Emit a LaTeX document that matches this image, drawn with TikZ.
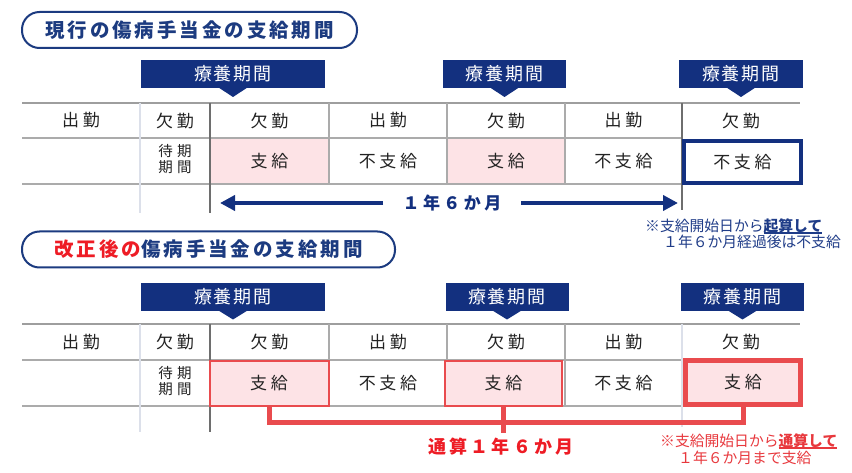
\documentclass[tikz,border=0pt]{standalone}
\usepackage{fontspec}
\setmainfont{Noto Sans CJK JP}
\newfontfamily\fTitle[LetterSpace=15]{Noto Sans CJK JP}
\newfontfamily\fTab[LetterSpace=11]{Noto Sans CJK JP}
\newfontfamily\fCell[LetterSpace=22]{Noto Sans CJK JP}
\newfontfamily\fSmall[LetterSpace=30]{Noto Sans CJK JP}
\newfontfamily\fSpan[LetterSpace=20]{Noto Sans CJK JP}
\newfontfamily\fSpanR[LetterSpace=18]{Noto Sans CJK JP}
\newfontfamily\fNote{Noto Sans CJK JP}
\usetikzlibrary{arrows.meta}
\definecolor{navy}{HTML}{13307F}
\definecolor{hdrblue}{HTML}{1C3B80}
\definecolor{hdrred}{HTML}{EE1C25}
\definecolor{redline}{HTML}{E94B4E}
\definecolor{rednote}{HTML}{E8383D}
\definecolor{pinkfill}{HTML}{FDE3E6}
\definecolor{gridgray}{HTML}{ABABAB}
\definecolor{gridtopc}{HTML}{9E9E9E}
\definecolor{darkgrid}{HTML}{6E6E6E}
\definecolor{palegrid}{HTML}{DCE0EA}
\definecolor{noteblue}{HTML}{1F3C88}
\definecolor{celltext}{HTML}{222222}
\newcommand\myul[1]{\setbox0=\hbox{#1}\rlap{\rule[-2.8pt]{\wd0}{1.4pt}}\box0}
\begin{document}
\begin{tikzpicture}[x=1pt,y=-1pt,
  pill/.style={draw=hdrblue, line width=2pt, rounded corners=17.5pt, minimum height=36pt, inner sep=0pt, font=\fTitle\bfseries\fontsize{19.5}{22}\selectfont},
  tabbox/.style={fill=navy, text=white, minimum width=#1, minimum height=28pt, inner sep=0pt, font=\fTab\fontsize{18}{20}\selectfont},
  tabptr/.style={fill=navy},
  cell/.style={inner sep=0pt, text=celltext, font=\fCell\fontsize{17}{19}\selectfont},
  smallcell/.style={inner sep=0pt, text=celltext, align=center, font=\fSmall\fontsize{14.5}{16.5}\selectfont},
  pinkcell/.style={cell, fill=pinkfill, minimum width=#1, minimum height=46pt},
  redcell/.style={cell, fill=pinkfill, draw=redline, line width=2pt, minimum width=#1, minimum height=45pt},
  gridtop/.style={draw=gridtopc, line width=1.8pt},
  grid/.style={draw=gridgray, line width=1.3pt},
  palev/.style={draw=palegrid, line width=1.3pt},
  darkv/.style={draw=darkgrid, line width=2pt},
  bluearrow/.style={draw=navy, line width=4.5pt, -{Triangle[length=15pt,width=15pt]}},
  bracket/.style={draw=redline, line width=5pt, line join=miter},
  spanblue/.style={inner sep=0pt, text=navy, font=\fSpan\bfseries\fontsize{17}{19}\selectfont},
  spanred/.style={inner sep=0pt, text=hdrred, font=\fSpanR\bfseries\fontsize{18}{20}\selectfont},
  note/.style={inner sep=0pt, anchor=west, font=\fNote\fontsize{14.8}{17}\selectfont}
]
\useasboundingbox (0,0) rectangle (852,473);
\fill[white] (0,0) rectangle (852,473);

% ================= TOP =================
\node[pill, minimum width=335pt, text=hdrblue] (hdr1) at (189.5,30) {現行の傷病手当金の支給期間};

\node[tabbox=184pt] (ttab1) at (233,74) {療養期間};
\node[tabbox=123pt] (ttab2) at (504.5,74) {療養期間};
\node[tabbox=124pt] (ttab3) at (741,74) {療養期間};
\foreach \t/\cx in {ttab1/233,ttab2/504.5,ttab3/741}{
  \fill[tabptr] (\cx-14.5,87.5) -- (\cx+14.5,87.5) -- (\cx,97) -- cycle;
}

% pink cells (fill)
\node[pinkcell=119pt] (tpay1) at (269.5,161) {支給};
\node[pinkcell=118pt] (tpay2) at (506,161) {支給};

% grid
\draw[gridtop] (22,103) -- (800,103);
\draw[grid] (22,138) -- (682,138);
\draw[grid] (22,184) -- (682,184);
\draw[palev] (140,103) -- (140,213);
\draw[grid] (329,103) -- (329,184);
\draw[grid] (447,103) -- (447,184);
\draw[grid] (565,103) -- (565,184);
\draw[darkv] (210,103) -- (210,213);
\draw[darkv] (682,103) -- (682,210);

% row 1
\node[cell] (t11) at (81,120.5) {出勤};
\node[cell] (t12) at (175,120.5) {欠勤};
\node[cell] (t13) at (269.5,120.5) {欠勤};
\node[cell] (t14) at (388,120.5) {出勤};
\node[cell] (t15) at (506,120.5) {欠勤};
\node[cell] (t16) at (623.5,120.5) {出勤};
\node[cell] (t17) at (741,120.5) {欠勤};
% row 2
\node[smallcell] (t22) at (175,159) {待期\\期間};
\node[cell] (t24) at (388,161) {不支給};
\node[cell] (t26) at (623.5,161) {不支給};
\node[cell, draw=navy, line width=4pt, minimum width=117pt, minimum height=42pt] (t27) at (742.5,162) {不支給};

% span arrow
\node[spanblue] (span1) at (452,203) {１年６か月};
\coordinate (aLs) at (383,203);
\coordinate (aLe) at (220,203);
\coordinate (aRs) at (521,203);
\coordinate (aRe) at (678,203);
\draw[bluearrow] (aLs) -- (aLe);
\draw[bluearrow] (aRs) -- (aRe);

\node[note, text=noteblue] (n11) at (645,226) {※支給開始日から\myul{\bfseries 起算して}};
\node[note, text=noteblue] (n12) at (663,242) {１年６か月経過後は不支給};

% ================= BOTTOM =================
\node[pill, minimum width=373pt] (hdr2) at (208.5,249.5) {{\color{hdrred}改正後の}{\color{hdrblue}傷病手当金の支給期間}};

\node[tabbox=184pt] (btab1) at (233,297) {療養期間};
\node[tabbox=123pt] (btab2) at (507,297) {療養期間};
\node[tabbox=123pt] (btab3) at (742.5,297) {療養期間};
\foreach \t/\cx in {btab1/233,btab2/507,btab3/742.5}{
  \fill[tabptr] (\cx-14.5,310.5) -- (\cx+14.5,310.5) -- (\cx,319.5) -- cycle;
}

% grid
\draw[gridtop] (22,324) -- (800,324);
\draw[grid] (22,360) -- (682,360);
\draw[grid] (22,406) -- (682,406);
\draw[palev] (140,324) -- (140,432);
\draw[grid] (329,324) -- (329,406);
\draw[grid] (447,324) -- (447,406);
\draw[grid] (565,324) -- (565,406);
\draw[darkv] (210,324) -- (210,432);
\draw[palev] (682,324) -- (682,427);

% row 1
\node[cell] (b11) at (81,342) {出勤};
\node[cell] (b12) at (175,342) {欠勤};
\node[cell] (b13) at (269.5,342) {欠勤};
\node[cell] (b14) at (388,342) {出勤};
\node[cell] (b15) at (506,342) {欠勤};
\node[cell] (b16) at (623.5,342) {出勤};
\node[cell] (b17) at (741,342) {欠勤};
% row 2
\node[smallcell] (b22) at (175,381) {待期\\期間};
\node[redcell=119pt] (bpay1) at (269,383.5) {支給};
\node[cell] (b24) at (388,383) {不支給};
\node[redcell=117pt] (bpay2) at (503.5,383.5) {支給};
\node[cell] (b26) at (623.5,383) {不支給};
\node[cell, fill=pinkfill, draw=redline, line width=5pt, minimum width=115pt, minimum height=44pt] (bpay3) at (743,382.5) {支給};

% bracket
\draw[bracket] (bpay1.south) -- ++(0,15) -| (bpay3.south);
\node[spanred] (span2) at (501,447) {通算１年６か月};
\coordinate (tick) at (503.5,433);
\draw[bracket] (bpay2.south) -- (tick);

\node[note, text=rednote] (n21) at (660,441) {※支給開始日から\myul{\bfseries 通算して}};
\node[note, text=rednote] (n22) at (678,458) {１年６か月まで支給};
\end{tikzpicture}
\end{document}
